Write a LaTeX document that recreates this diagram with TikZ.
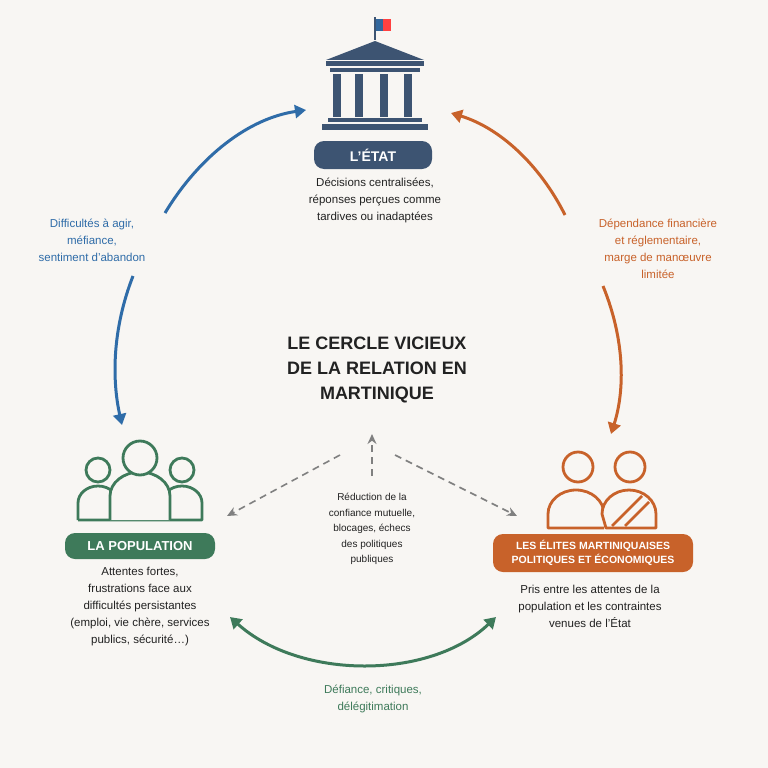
\documentclass[tikz,border=0pt]{standalone}
\usepackage{fontspec}
\setmainfont{Liberation Sans}
\usetikzlibrary{arrows.meta}
\definecolor{bg}{HTML}{F8F6F3}
\definecolor{navy}{HTML}{3D5472}
\definecolor{ora}{HTML}{C8622A}
\definecolor{grn}{HTML}{3E7A5A}
\definecolor{blu}{HTML}{2F6CA8}
\definecolor{txt}{HTML}{222222}
\begin{document}
\begin{tikzpicture}[x=1pt,y=-1pt,
 body/.style={font=\fontsize{11.5}{17}\selectfont,align=center,text=txt},
 pill/.style={rounded corners=10pt,text=white,align=center,inner sep=0pt},
 arr/.style={line width=3pt,-{Triangle[length=11pt,width=13pt]}},
 dsh/.style={gray,line width=1.6pt,dash pattern=on 7pt off 5pt,-{Stealth[length=10pt,width=9pt]}},
 person/.style={line width=2.8pt,line join=round}]
\fill[bg] (0,0) rectangle (768,768);
% temple
\fill[navy] (374,17) rectangle (376,40);
\fill[blu!80!navy] (376,19) rectangle (383,31);
\fill[red!75!white] (383,19) rectangle (391,31);
\fill[navy] (326,60) -- (375,41) -- (424,60) -- cycle;
\fill[navy] (326,61) rectangle (424,66);
\fill[navy] (330,68) rectangle (420,72);
\foreach \x in {337,359,384,408}{\fill[navy] (\x-4,74) rectangle (\x+4,117);}
\fill[navy] (328,118) rectangle (422,122);
\fill[navy] (322,124) rectangle (428,130);
\node[pill,fill=navy,minimum width=118pt,minimum height=28pt,font=\bfseries\fontsize{14}{16}\selectfont] (etat) at (373,155) {L'ÉTAT};
\node[body] (etatt) at (375,200) {Décisions centralisées,\\réponses perçues comme\\tardives ou inadaptées};
% title
\node[font=\bfseries\fontsize{18}{25}\selectfont,align=center,text=txt] (title) at (377,370) {LE CERCLE VICIEUX\\DE LA RELATION EN\\MARTINIQUE};
% population icon
\draw[grn,person] (98,470) circle (12);
\draw[grn,person] (182,470) circle (12);
\draw[grn,person] (78,520) -- (78,503) arc (180:360:20 and 17);
\draw[grn,person] (162,503) arc (180:360:20 and 17) -- (202,520) -- (78,520);
\draw[grn,person,fill=bg] (110,520) -- (110,496) arc (180:360:30 and 24) -- (170,520);
\draw[grn,person,fill=bg] (140,458) circle (17);
\node[pill,fill=grn,minimum width=150pt,minimum height=26pt,font=\bfseries\fontsize{13}{15}\selectfont] (pop) at (140,546) {LA POPULATION};
\node[body] (popt) at (140,607) {Attentes fortes,\\frustrations face aux\\difficultés persistantes\\(emploi, vie chère, services\\publics, sécurité…)};
% elites icon
\draw[ora,person] (578,467) circle (15);
\draw[ora,person] (630,467) circle (15);
\draw[ora,person] (604,528) -- (548,528) -- (548,514) arc (180:360:28 and 24) ;
\draw[ora,person,fill=bg] (606,528) -- (602,514) arc (180:360:27 and 24) -- (656,528) -- cycle;
\draw[ora,person] (612,526) -- (642,496);
\draw[ora,person] (625,526) -- (649,502);
\node[pill,fill=ora,minimum width=200pt,minimum height=38pt,font=\bfseries\fontsize{10.5}{14}\selectfont] (eli) at (593,553) {LES ÉLITES MARTINIQUAISES\\POLITIQUES ET ÉCONOMIQUES};
\node[body] (elit) at (590,606) {Pris entre les attentes de la\\population et les contraintes\\venues de l'État};
% arrows
\coordinate (b1) at (165,213); \coordinate (b2) at (306,110);
\draw[arr,blu] (b1) .. controls (200,155) and (250,118) .. (b2);
\coordinate (b3) at (133,276); \coordinate (b4) at (122,425);
\draw[arr,blu] (b3) .. controls (112,330) and (112,380) .. (b4);
\node[body,text=blu] (bl) at (92,240) {Difficultés à agir,\\méfiance,\\sentiment d'abandon};
\coordinate (o1) at (565,215); \coordinate (o2) at (451,113);
\draw[arr,ora] (o1) .. controls (540,165) and (500,128) .. (o2);
\coordinate (o3) at (603,286); \coordinate (o4) at (611,434);
\draw[arr,ora] (o3) .. controls (625,340) and (625,390) .. (o4);
\node[body,text=ora] (ol) at (658,249) {Dépendance financière\\et réglementaire,\\marge de manœuvre\\limitée};
\coordinate (g1) at (230,617); \coordinate (g2) at (496,617);
\draw[grn,line width=3pt,{Triangle[length=11pt,width=13pt]}-{Triangle[length=11pt,width=13pt]}] (g1) .. controls (300,680) and (430,680) .. (g2);
\node[body,text=grn] (gl) at (373,699) {Défiance, critiques,\\délégitimation};
% dashed
\coordinate (c0) at (372,476); \coordinate (c1) at (372,434);
\draw[dsh] (c0) -- (c1);
\coordinate (l0) at (340,455); \coordinate (l1) at (227,516);
\draw[dsh] (l0) -- (l1);
\coordinate (r0) at (395,455); \coordinate (r1) at (517,516);
\draw[dsh] (r0) -- (r1);
\node[body,font=\fontsize{10}{15.5}\selectfont] (mid) at (372,529) {Réduction de la\\confiance mutuelle,\\blocages, échecs\\des politiques\\publiques};
\end{tikzpicture}
\end{document}
